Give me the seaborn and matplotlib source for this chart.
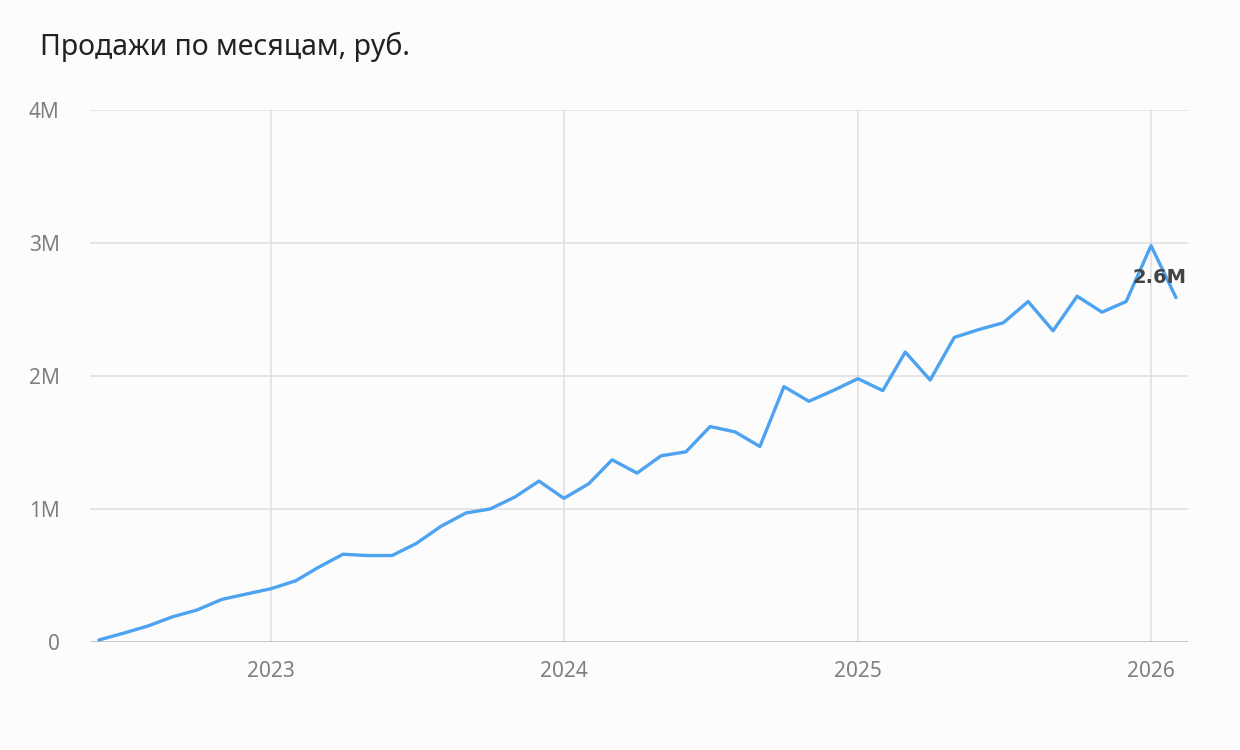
import numpy as np
import pandas as pd
import seaborn as sns
import matplotlib.pyplot as plt
import matplotlib.dates as mdates
from matplotlib.ticker import FixedLocator, FuncFormatter

# monthly sales, rubles (millions)
months = pd.date_range("2022-06-01", "2026-02-01", freq="MS")
sales_m = [
    0.015, 0.065, 0.12, 0.19, 0.24, 0.32, 0.36,               # Jun-Dec 2022
    0.40, 0.46, 0.56, 0.66, 0.65, 0.65, 0.74, 0.87, 0.97, 1.00, 1.09, 1.21,  # 2023
    1.08, 1.19, 1.37, 1.27, 1.40, 1.43, 1.62, 1.58, 1.47, 1.92, 1.81, 1.89,  # 2024
    1.98, 1.89, 2.18, 1.97, 2.29, 2.35, 2.40, 2.56, 2.34, 2.60, 2.48, 2.56,  # 2025
    2.98, 2.59,                                                # Jan-Feb 2026
]
sales = np.array(sales_m) * 1e6
year_ticks = pd.to_datetime(["2023-01-01", "2024-01-01", "2025-01-01", "2026-01-01"])
y_ticks = [0, 1e6, 2e6, 3e6, 4e6]

df = pd.DataFrame({"month": months, "sales": sales})

sns.set_style("white")
plt.rcParams["font.family"] = ["Noto Sans", "DejaVu Sans"]

bg = "#fcfcfc"
fig = plt.figure(figsize=(12.4, 7.5), dpi=100, facecolor=bg)
ax = fig.add_axes([90 / 1240, 1 - 642 / 750, (1188 - 90) / 1240, (642 - 110) / 750])
ax.set_facecolor(bg)

sns.lineplot(data=df, x="month", y="sales", ax=ax, color="#4da3f0", linewidth=2.4)

ax.set_ylim(0, 4e6)
ax.set_xlim(pd.Timestamp("2022-05-21"), pd.Timestamp("2026-02-16"))

ax.yaxis.set_major_locator(FixedLocator(y_ticks))
ax.yaxis.set_major_formatter(FuncFormatter(lambda v, p: "0" if v == 0 else f"{v / 1e6:.0f}M"))
ax.xaxis.set_major_locator(FixedLocator(mdates.date2num(year_ticks)))
ax.xaxis.set_major_formatter(mdates.DateFormatter("%Y"))

ax.grid(True, color="#dedede", linewidth=1.1)
ax.axhline(0, color="#c4c4c4", linewidth=1.3, zorder=1)
for s in ax.spines.values():
    s.set_visible(False)
ax.tick_params(axis="both", length=0, labelsize=15, labelcolor="#7f7f7f")
ax.tick_params(axis="y", pad=22)
ax.tick_params(axis="x", pad=14)
ax.set_xlabel("")
ax.set_ylabel("")

# label on last point
ax.annotate(f"{sales[-1] / 1e6:.1f}M", xy=(months[-1], sales[-1]),
            xytext=(11, 20), textcoords="offset pixels",
            ha="right", va="center", fontsize=14, fontweight="bold",
            family=["DejaVu Sans"], color="#444444")

fig.text(40 / 1240, 1 - 47 / 750, "Продажи по месяцам, руб.", fontsize=20.5,
         color="#222222", ha="left", va="center")

fig.savefig("out.png", dpi=100, facecolor=bg)
